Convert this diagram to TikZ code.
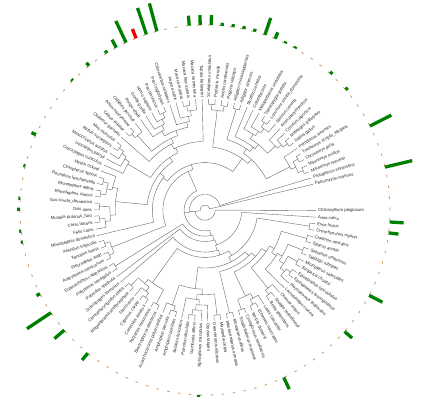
\documentclass[tikz,border=0pt]{standalone}
\usepackage{fontspec}
\setmainfont{Liberation Sans}

\definecolor{bargreen}{RGB}{0,128,0}
\definecolor{barred}{RGB}{240,0,0}
\definecolor{ringtan}{RGB}{205,150,100}
\definecolor{branchgrey}{RGB}{105,105,105}

\def\firstang{13.4}  % angle of the first tip
\def\stepang{3.395}  % angle between two tips
\def\tipR{111}
\def\labR{112.5}
\def\hstep{5.3}      % radial step per node height
\def\ringR{185}

\tikzset{
  branch/.style={branchgrey, line width=0.4pt},
  spname/.style={font=\fontsize{4.3}{4.3}\selectfont, text=black!85, inner sep=0.4pt},
  bar/.style={line width=3.3pt}
}

\begin{document}
\begin{tikzpicture}[x=1pt,y=1pt]
	%%%%% START %%%%%
	\useasboundingbox (-205,-194) rectangle (236,210);

	% outer ring
	\draw[ringtan, line width=0.8pt, dash pattern=on 2.6pt off 8.37pt] (0:\ringR) arc[start angle=0, end angle=360, radius=\ringR];

	% inner nodes: first tip/split/last tip/height/parent height
	\foreach \a/\s/\b/\h/\hp in {0/0/102/20/20, 1/101/102/19/20, 1/1/101/18/19, 2/57/101/17/18,
		2/53/57/13/17, 2/22/53/12/13, 2/18/22/9/12, 2/6/18/8/9, 2/5/6/3/8, 2/3/5/2/3, 2/2/3/1/2, 4/4/5/1/2,
		7/16/18/7/8, 7/15/16/6/7, 7/10/15/5/6, 7/9/10/3/5, 7/8/9/2/3, 7/7/8/1/2, 11/14/15/4/5, 11/13/14/3/4,
		11/11/13/2/3, 12/12/13/1/2, 17/17/18/1/7, 19/20/22/2/9, 19/19/20/1/2, 21/21/22/1/2,
		23/52/53/11/12, 23/42/52/10/11, 23/37/42/9/10, 23/23/37/8/9, 24/36/37/7/8, 24/33/36/6/7,
		24/28/33/5/6, 24/27/28/4/5, 24/26/27/3/4, 24/24/26/2/3, 25/25/26/1/2, 29/32/33/4/5, 29/31/32/3/4,
		29/30/31/2/3, 29/29/30/1/2, 34/34/36/2/6, 35/35/36/1/2, 38/41/42/4/9, 38/40/41/3/4, 38/39/40/2/3,
		38/38/39/1/2, 43/47/52/4/10, 43/43/47/3/4, 44/45/47/2/3, 44/44/45/1/2, 46/46/47/1/2, 48/49/52/3/4,
		48/48/49/1/3, 50/51/52/2/3, 50/50/51/1/2, 54/55/57/2/13, 54/54/55/1/2, 56/56/57/1/2,
		58/59/101/16/17, 58/58/59/1/16, 60/60/101/15/16, 61/100/101/14/15, 61/61/100/13/14, 62/68/100/12/13,
		62/66/68/4/12, 62/63/66/3/4, 62/62/63/1/3, 64/64/66/2/3, 65/65/66/1/2, 67/67/68/1/4,
		69/98/100/11/12, 69/78/98/10/11, 69/71/78/6/10, 69/69/71/2/6, 70/70/71/1/2, 72/76/78/5/6,
		72/72/76/4/5, 73/75/76/3/4, 73/74/75/2/3, 73/73/74/1/2, 77/77/78/1/5, 79/80/98/9/10, 79/79/80/1/9,
		81/85/98/8/9, 81/82/85/3/8, 81/81/82/1/3, 83/84/85/2/3, 83/83/84/1/2, 86/88/98/7/8, 86/87/88/2/7,
		86/86/87/1/2, 89/96/98/6/7, 89/89/96/5/6, 90/94/96/4/5, 90/92/94/3/4, 90/90/92/2/3, 91/91/92/1/2,
		93/93/94/1/3, 95/95/96/1/4, 97/97/98/1/6, 99/99/100/1/11}{
		\pgfmathsetmacro\angA{\firstang+(\a+\s)/2*\stepang}
		\pgfmathsetmacro\angB{\firstang+(\s+1+\b)/2*\stepang}
		\pgfmathsetmacro\angM{\firstang+(\a+\b)/2*\stepang}
		\pgfmathsetmacro\rIn{\tipR-\hp*\hstep}
		\pgfmathsetmacro\rOut{\tipR-\h*\hstep}
		\draw[branch] (\angA:\rOut) arc[start angle=\angA, end angle=\angB, radius=\rOut];
		\draw[branch] (\angM:\rIn) -- (\angM:\rOut);
	}

	% tips and species names: name/parent height
	\foreach \nm/\hp [count=\k from 0] in {Petromyzon marinus/20, Protopterus annectens/18,
		Mauremys reevesii/1, Mauremys mutica/1, Chrysemys picta/1, Trachemys scripta\_elegans/1,
		Pelodiscus sinensis/3, Gallus gallus/1, Meleagris gallopavo/1, Coturnix japonica/2,
		Anas platyrhynchos/3, Serinus canaria/2, Lonchura striata\_domestica/1, Taeniopygia guttata/1,
		Melopsittacus undulatus/3, Columba livia/4, Struthio camelus/6, Alligator sinensis/1,
		Alligator mississippiensis/1, Pogona vitticeps/1, Anolis carolinensis/1, Podarcis muralis/1,
		Sceloporus undulatus/1, Tupaia belangeri/8, Macaca nemestrina/2, Macaca fascicularis/1,
		Macaca mulatta/1, Papio anubis/3, Chlorocebus sabaeus/4, Pan troglodytes/1, Pan paniscus/1,
		Homo sapiens/2, Gorilla gorilla/3, Pongo abelii/4, Callithrix jacchus/2, Aotus nancymaae/1,
		Cebus imitator/1, Otolemur garnettii/7, Mus musculus/1, Rattus norvegicus/1,
		Mesocricetus auratus/2, Urocitellus parryii/3, Oryctolagus cuniculus/4, Myotis ricketti/3,
		Cynopterus sphinx/1, Rousettus leschenaultii/1, Rhinolophus affinis/1, Rhinolophus sinicus/1,
		Sus scrofa\_domestica/1, Ovis aries/1, Mustela putorius\_furo/1, Canis latrans/1, Felis catus/2,
		Monodelphis domestica/11, Xenopus tropicalis/1, Xenopus laevis/1, Pleurodeles waltl/1,
		Ambystoma mexicanum/1, Erpetoichthys calabaricus/1, Polypterus senegalus/1,
		Polyodon spathula/15, Scleropages formosus/13, Ctenopharyngodon idella/1,
		Megalobrama amblycephala/1, Danio rerio/2, Cyprinus carpio/1, Carassius auratus/1,
		Astyanax mexicanus/1, Electrophorus electricus/1, Acanthochromis polyacanthus/2,
		Amphiprion percula/1, Amphiprion ocellaris/1, Salarias fasciatus/4, Poecilia reticulata/1,
		Gambusia affinis/1, Xiphophorus maculatus/2, Oryzias latipes/3, Oreochromis niloticus/1,
		Maylandia zebra/1, Mastacembelus armatus/1, Monopterus albus/1, Scophthalmus maximus/1,
		Cynoglossus semilaevis/1, Seriola dumerili/1, Echeneis naucrates/1, Lates calcarifer/2,
		Betta splendens/1, Anabas testudineus/1, Channa argus/2, Larimichthys crocea/5,
		Plectropomus leopardus/2, Epinephelus fuscoguttatus/1, Epinephelus lanceolatus/1,
		Siniperca chuatsi/1, Micropterus salmoides/1, Takifugu rubripes/1, Sebastes umbrosus/1,
		Sparus aurata/1, Chelmon rostratus/1, Oncorhynchus mykiss/1, Esox lucius/1, Amia calva/14,
		Chiloscyllium plagiosum/19}{
		\pgfmathsetmacro\ang{\firstang+\k*\stepang}
		\pgfmathsetmacro\rIn{\tipR-\hp*\hstep}
		\draw[branch] (\ang:\rIn) -- (\ang:\tipR);
		\pgfmathtruncatemacro\lefthalf{cos(\ang)<0}
		\ifnum\lefthalf=1
			\node[spname, anchor=east, rotate=\ang-180] (sp\k) at (\ang:\labR) {\nm};
		\else
			\node[spname, anchor=west, rotate=\ang] (sp\k) at (\ang:\labR) {\nm};
		\fi
	}

	% bars on the ring: tip/length/colour
	\foreach \k/\v/\c in {0/28/bargreen, 4/24/bargreen, 8/3/bargreen, 10/3/bargreen, 14/2/bargreen,
		15/2/bargreen, 16/7/bargreen, 17/18/bargreen, 18/3/bargreen, 19/3/bargreen, 20/3/bargreen,
		21/3/bargreen, 22/10/bargreen, 23/10/bargreen, 24/10/bargreen, 27/29/bargreen, 28/28/bargreen,
		29/10/barred, 30/24/bargreen, 31/9/bargreen, 32/3/bargreen, 34/4/bargreen, 36/2/bargreen,
		42/5/bargreen, 45/2/bargreen, 48/2/bargreen, 49/3/bargreen, 51/2/bargreen, 52/2/bargreen,
		57/4/bargreen, 59/29/bargreen, 61/13/bargreen, 64/9/bargreen, 75/2/bargreen, 83/13/bargreen,
		90/10/bargreen, 94/15/bargreen, 100/10/bargreen, 101/14/bargreen}{
		\pgfmathsetmacro\ang{\firstang+\k*\stepang}
		\pgfmathsetmacro\rTop{\ringR+\v}
		\draw[bar, \c] (\ang:\ringR) -- (\ang:\rTop);
	}
	%%%%% END %%%%%
\end{tikzpicture}
\end{document}
